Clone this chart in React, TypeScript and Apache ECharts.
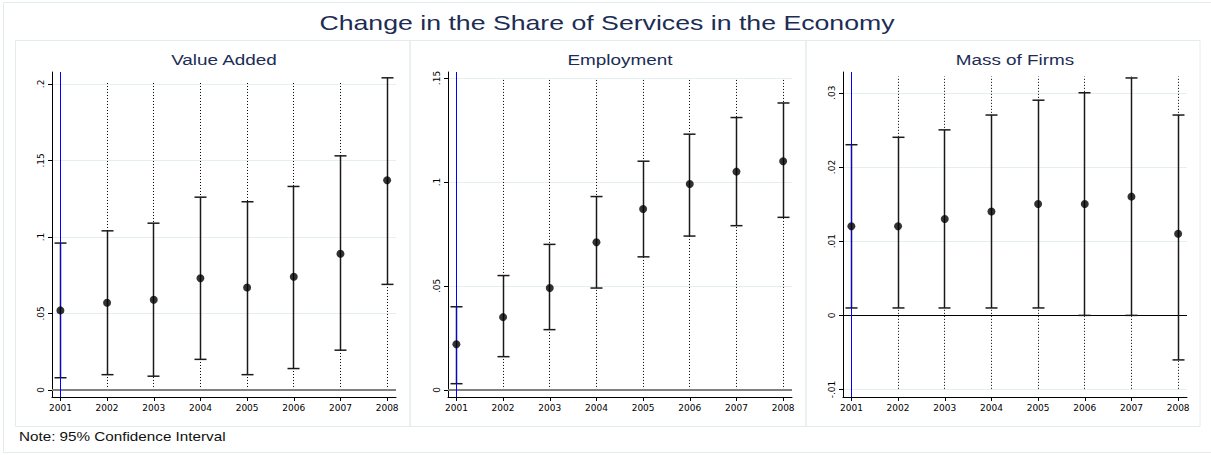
import React, { useEffect, useRef } from "react";
import * as echarts from "echarts";

const years = [2001, 2002, 2003, 2004, 2005, 2006, 2007, 2008];
const baseYear = [2001];

const vaPoint = [0.052, 0.057, 0.059, 0.073, 0.067, 0.074, 0.089, 0.137];
const vaLower = [0.008, 0.010, 0.009, 0.020, 0.010, 0.014, 0.026, 0.069];
const vaUpper = [0.096, 0.104, 0.109, 0.126, 0.123, 0.133, 0.153, 0.204];

const empPoint = [0.022, 0.035, 0.049, 0.071, 0.087, 0.099, 0.105, 0.110];
const empLower = [0.003, 0.016, 0.029, 0.049, 0.064, 0.074, 0.079, 0.083];
const empUpper = [0.040, 0.055, 0.070, 0.093, 0.110, 0.123, 0.131, 0.138];

const firmPoint = [0.012, 0.012, 0.013, 0.014, 0.015, 0.015, 0.016, 0.011];
const firmLower = [0.001, 0.001, 0.001, 0.001, 0.001, 0.000, 0.000, -0.006];
const firmUpper = [0.023, 0.024, 0.025, 0.027, 0.029, 0.030, 0.032, 0.027];

const vaTicks = [0, 0.05, 0.1, 0.15, 0.2];
const empTicks = [0, 0.05, 0.1, 0.15];
const firmTicks = [-0.01, 0, 0.01, 0.02, 0.03];

// vertical dotted reference lines (span in data units)
const vaRefSpan = [0, 0.2015];
const empRefSpan = [0, 0.15];
const firmRefSpan = [-0.0099, 0.0322];

const mainTitle = "Change in the Share of Services in the Economy";
const panelTitles = ["Value Added", "Employment", "Mass of Firms"];
const noteText = "Note: 95% Confidence Interval";

const stataFmt = (v: number) => {
  let s = String(+Number(v).toFixed(4));
  s = s.replace(/^0\./, ".").replace(/^-0\./, "-.");
  return s;
};

const crisp = (x: number) => Math.round(x - 0.5) + 0.5;

export default function App() {
  const ref = useRef<HTMLDivElement>(null);
  useEffect(() => {
    if (!ref.current) return;
    const chart = echarts.init(ref.current, null, { renderer: "svg" });

    const panels = [
      { point: vaPoint, lower: vaLower, upper: vaUpper, ticks: vaTicks, span: vaRefSpan, min: -0.0046, max: 0.2078, left: 52, zeroColor: "#808080", zeroWidth: 2 },
      { point: empPoint, lower: empLower, upper: empUpper, ticks: empTicks, span: empRefSpan, min: -0.0034, max: 0.1529, left: 448, zeroColor: "#808080", zeroWidth: 2 },
      { point: firmPoint, lower: firmLower, upper: firmUpper, ticks: firmTicks, span: firmRefSpan, min: -0.011, max: 0.0328, left: 843, zeroColor: "#000000", zeroWidth: 1 },
    ];

    const grid = panels.map((p) => ({ left: p.left, top: 72, width: 344, height: 325 }));
    const xAxis = panels.map((p, i) => ({
      gridIndex: i,
      type: "value",
      min: 2000.82,
      max: 2008.19,
      axisLine: { show: true, onZero: false, lineStyle: { color: "#000", width: 1 } },
      axisTick: { show: true, length: 4, customValues: years, lineStyle: { color: "#000" } },
      axisLabel: {
        customValues: years,
        formatter: (v: number) => String(v),
        fontFamily: "DejaVu Sans",
        fontSize: 9,
        color: "#000",
        margin: 6,
      },
      splitLine: { show: false },
    }));
    const yAxis = panels.map((p, i) => ({
      gridIndex: i,
      type: "value",
      min: p.min,
      max: p.max,
      axisLine: { show: true, onZero: false, lineStyle: { color: "#000", width: 1 } },
      axisTick: { show: true, length: 4, customValues: p.ticks, lineStyle: { color: "#000" } },
      axisLabel: {
        customValues: p.ticks,
        rotate: 90,
        formatter: stataFmt,
        fontFamily: "DejaVu Sans",
        fontSize: 9,
        color: "#000",
        margin: 7,
      },
      splitLine: { show: true, lineStyle: { color: "#e6efef", width: 1 } },
    }));

    const series: any[] = [];
    panels.forEach((p, i) => {
      // dotted year reference lines
      series.push({
        type: "custom",
        xAxisIndex: i,
        yAxisIndex: i,
        z: 1,
        silent: true,
        data: years.map((y) => [y, p.span[0], p.span[1]]),
        encode: { x: 0, y: [1, 2] },
        renderItem: (params: any, api: any) => {
          const a = api.coord([api.value(0), api.value(1)]);
          const b = api.coord([api.value(0), api.value(2)]);
          const x = crisp(a[0]);
          return {
            type: "line",
            shape: { x1: x, y1: a[1], x2: x, y2: b[1] },
            style: { stroke: "#000", lineWidth: 1, lineDash: [1, 2] },
          };
        },
      });
      // confidence intervals + zero line
      series.push({
        type: "custom",
        xAxisIndex: i,
        yAxisIndex: i,
        z: 2,
        silent: true,
        data: years.map((y, k) => [y, p.lower[k], p.upper[k]]),
        encode: { x: 0, y: [1, 2] },
        renderItem: (params: any, api: any) => {
          const lo = api.coord([api.value(0), api.value(1)]);
          const hi = api.coord([api.value(0), api.value(2)]);
          const hw = 6;
          const x = crisp(lo[0]);
          const st = { stroke: "#1a1a1a", lineWidth: 1.5 };
          return {
            type: "group",
            children: [
              { type: "line", shape: { x1: x, y1: lo[1], x2: x, y2: hi[1] }, style: st },
              { type: "line", shape: { x1: x - hw, y1: hi[1], x2: x + hw, y2: hi[1] }, style: st },
              { type: "line", shape: { x1: x - hw, y1: lo[1], x2: x + hw, y2: lo[1] }, style: st },
            ],
          };
        },
        markLine: {
          silent: true,
          z: 2,
          symbol: "none",
          label: { show: false },
          animation: false,
          data: [{ yAxis: 0, lineStyle: { color: p.zeroColor, width: p.zeroWidth, type: "solid" } }],
        },
      });
      // blue base-year line spanning the plot region
      series.push({
        type: "custom",
        xAxisIndex: i,
        yAxisIndex: i,
        z: 3,
        silent: true,
        data: baseYear.map((y) => [y, 0]),
        encode: { x: 0, y: 1 },
        renderItem: (params: any, api: any) => {
          const c = api.coord([api.value(0), api.value(1)]);
          const cs = params.coordSys;
          const x = crisp(c[0]);
          return {
            type: "line",
            shape: { x1: x, y1: cs.y, x2: x, y2: cs.y + cs.height },
            style: { stroke: "#0000ff", lineWidth: 1 },
          };
        },
      });
      series.push({
        type: "scatter",
        xAxisIndex: i,
        yAxisIndex: i,
        z: 4,
        symbol: "circle",
        symbolSize: 8,
        itemStyle: { color: "#000" },
        data: years.map((y, k) => [y, p.point[k]]),
      });
    });

    const border = "#e3ecec";
    const titleFill = "#1c2d55";
    const graphic: any[] = [
      { type: "rect", silent: true, shape: { x: 3.5, y: 2.5, width: 1212, height: 450 }, style: { fill: "none", stroke: border, lineWidth: 1 } },
      { type: "rect", silent: true, shape: { x: 15.5, y: 40.5, width: 394.5, height: 386 }, style: { fill: "none", stroke: border, lineWidth: 1 } },
      { type: "rect", silent: true, shape: { x: 410, y: 40.5, width: 396, height: 386 }, style: { fill: "none", stroke: border, lineWidth: 1 } },
      { type: "rect", silent: true, shape: { x: 806, y: 40.5, width: 394, height: 386 }, style: { fill: "none", stroke: border, lineWidth: 1 } },
      {
        type: "text", silent: true, x: 607, y: 22.5, scaleX: 1.27,
        style: { text: mainTitle, fontFamily: "Liberation Sans", fontSize: 21, fill: titleFill, align: "center", verticalAlign: "middle" },
      },
      ...panelTitles.map((t, i) => ({
        type: "text", silent: true, x: panels[i].left + 172, y: 60, scaleX: 1.26,
        style: { text: t, fontFamily: "Liberation Sans", fontSize: 15, fill: titleFill, align: "center", verticalAlign: "middle" },
      })),
      {
        type: "text", silent: true, x: 19, y: 437, scaleX: 1.27,
        style: { text: noteText, fontFamily: "Liberation Sans", fontSize: 12, fill: "#111", align: "left", verticalAlign: "middle" },
      },
    ];

    chart.setOption({
      animation: false,
      backgroundColor: "#ffffff",
      grid,
      xAxis,
      yAxis,
      series,
      graphic,
    });
    return () => chart.dispose();
  }, []);
  return <div ref={ref} style={{ position: "absolute", left: 0, top: 0, width: 1211, height: 455 }} />;
}
